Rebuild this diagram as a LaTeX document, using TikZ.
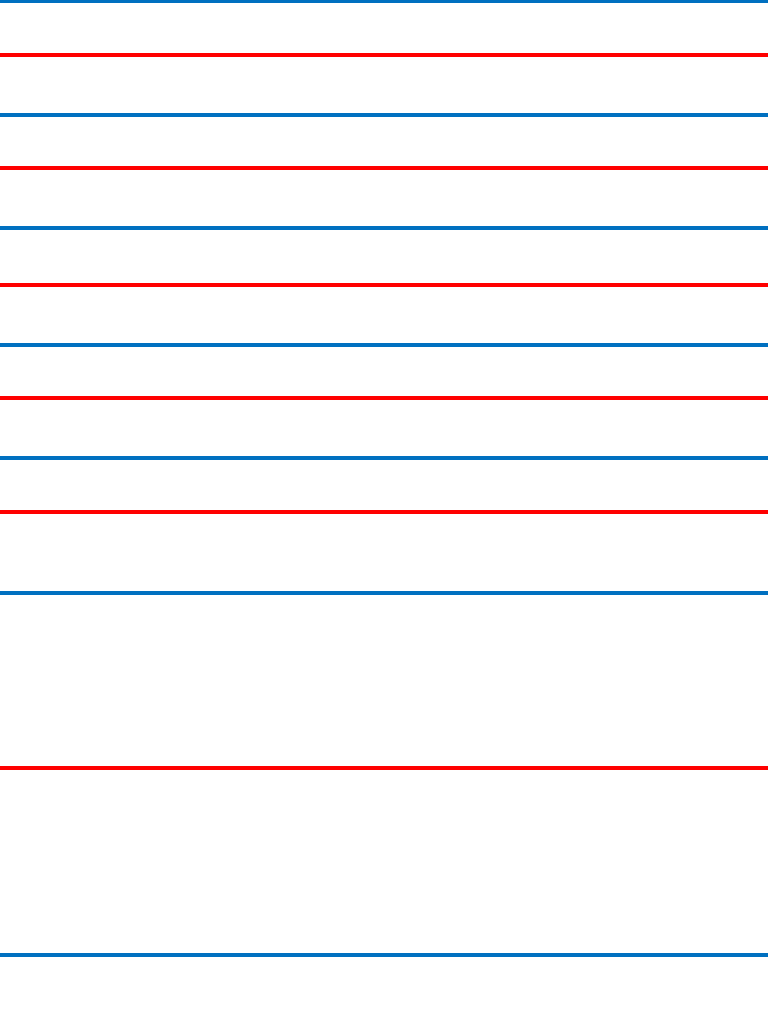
\documentclass[tikz,border=0pt]{standalone}
\definecolor{lblue}{RGB}{0,112,192}
\definecolor{lred}{RGB}{255,0,0}
\tikzset{bl/.style={draw=lblue,line width=3.5pt},rl/.style={draw=lred,line width=3.5pt}}
\begin{document}
\begin{tikzpicture}[x=1pt,y=-1pt]
\useasboundingbox[fill=white] (0,0) rectangle (768,1024);
\clip (0,0) rectangle (768,1024);
\foreach \y in {1,115,228,345,458,593,955} \draw[bl] (0,\y) -- (768,\y);
\foreach \y in {55,168,285,398,512,768} \draw[rl] (0,\y) -- (768,\y);
\end{tikzpicture}
\end{document}
